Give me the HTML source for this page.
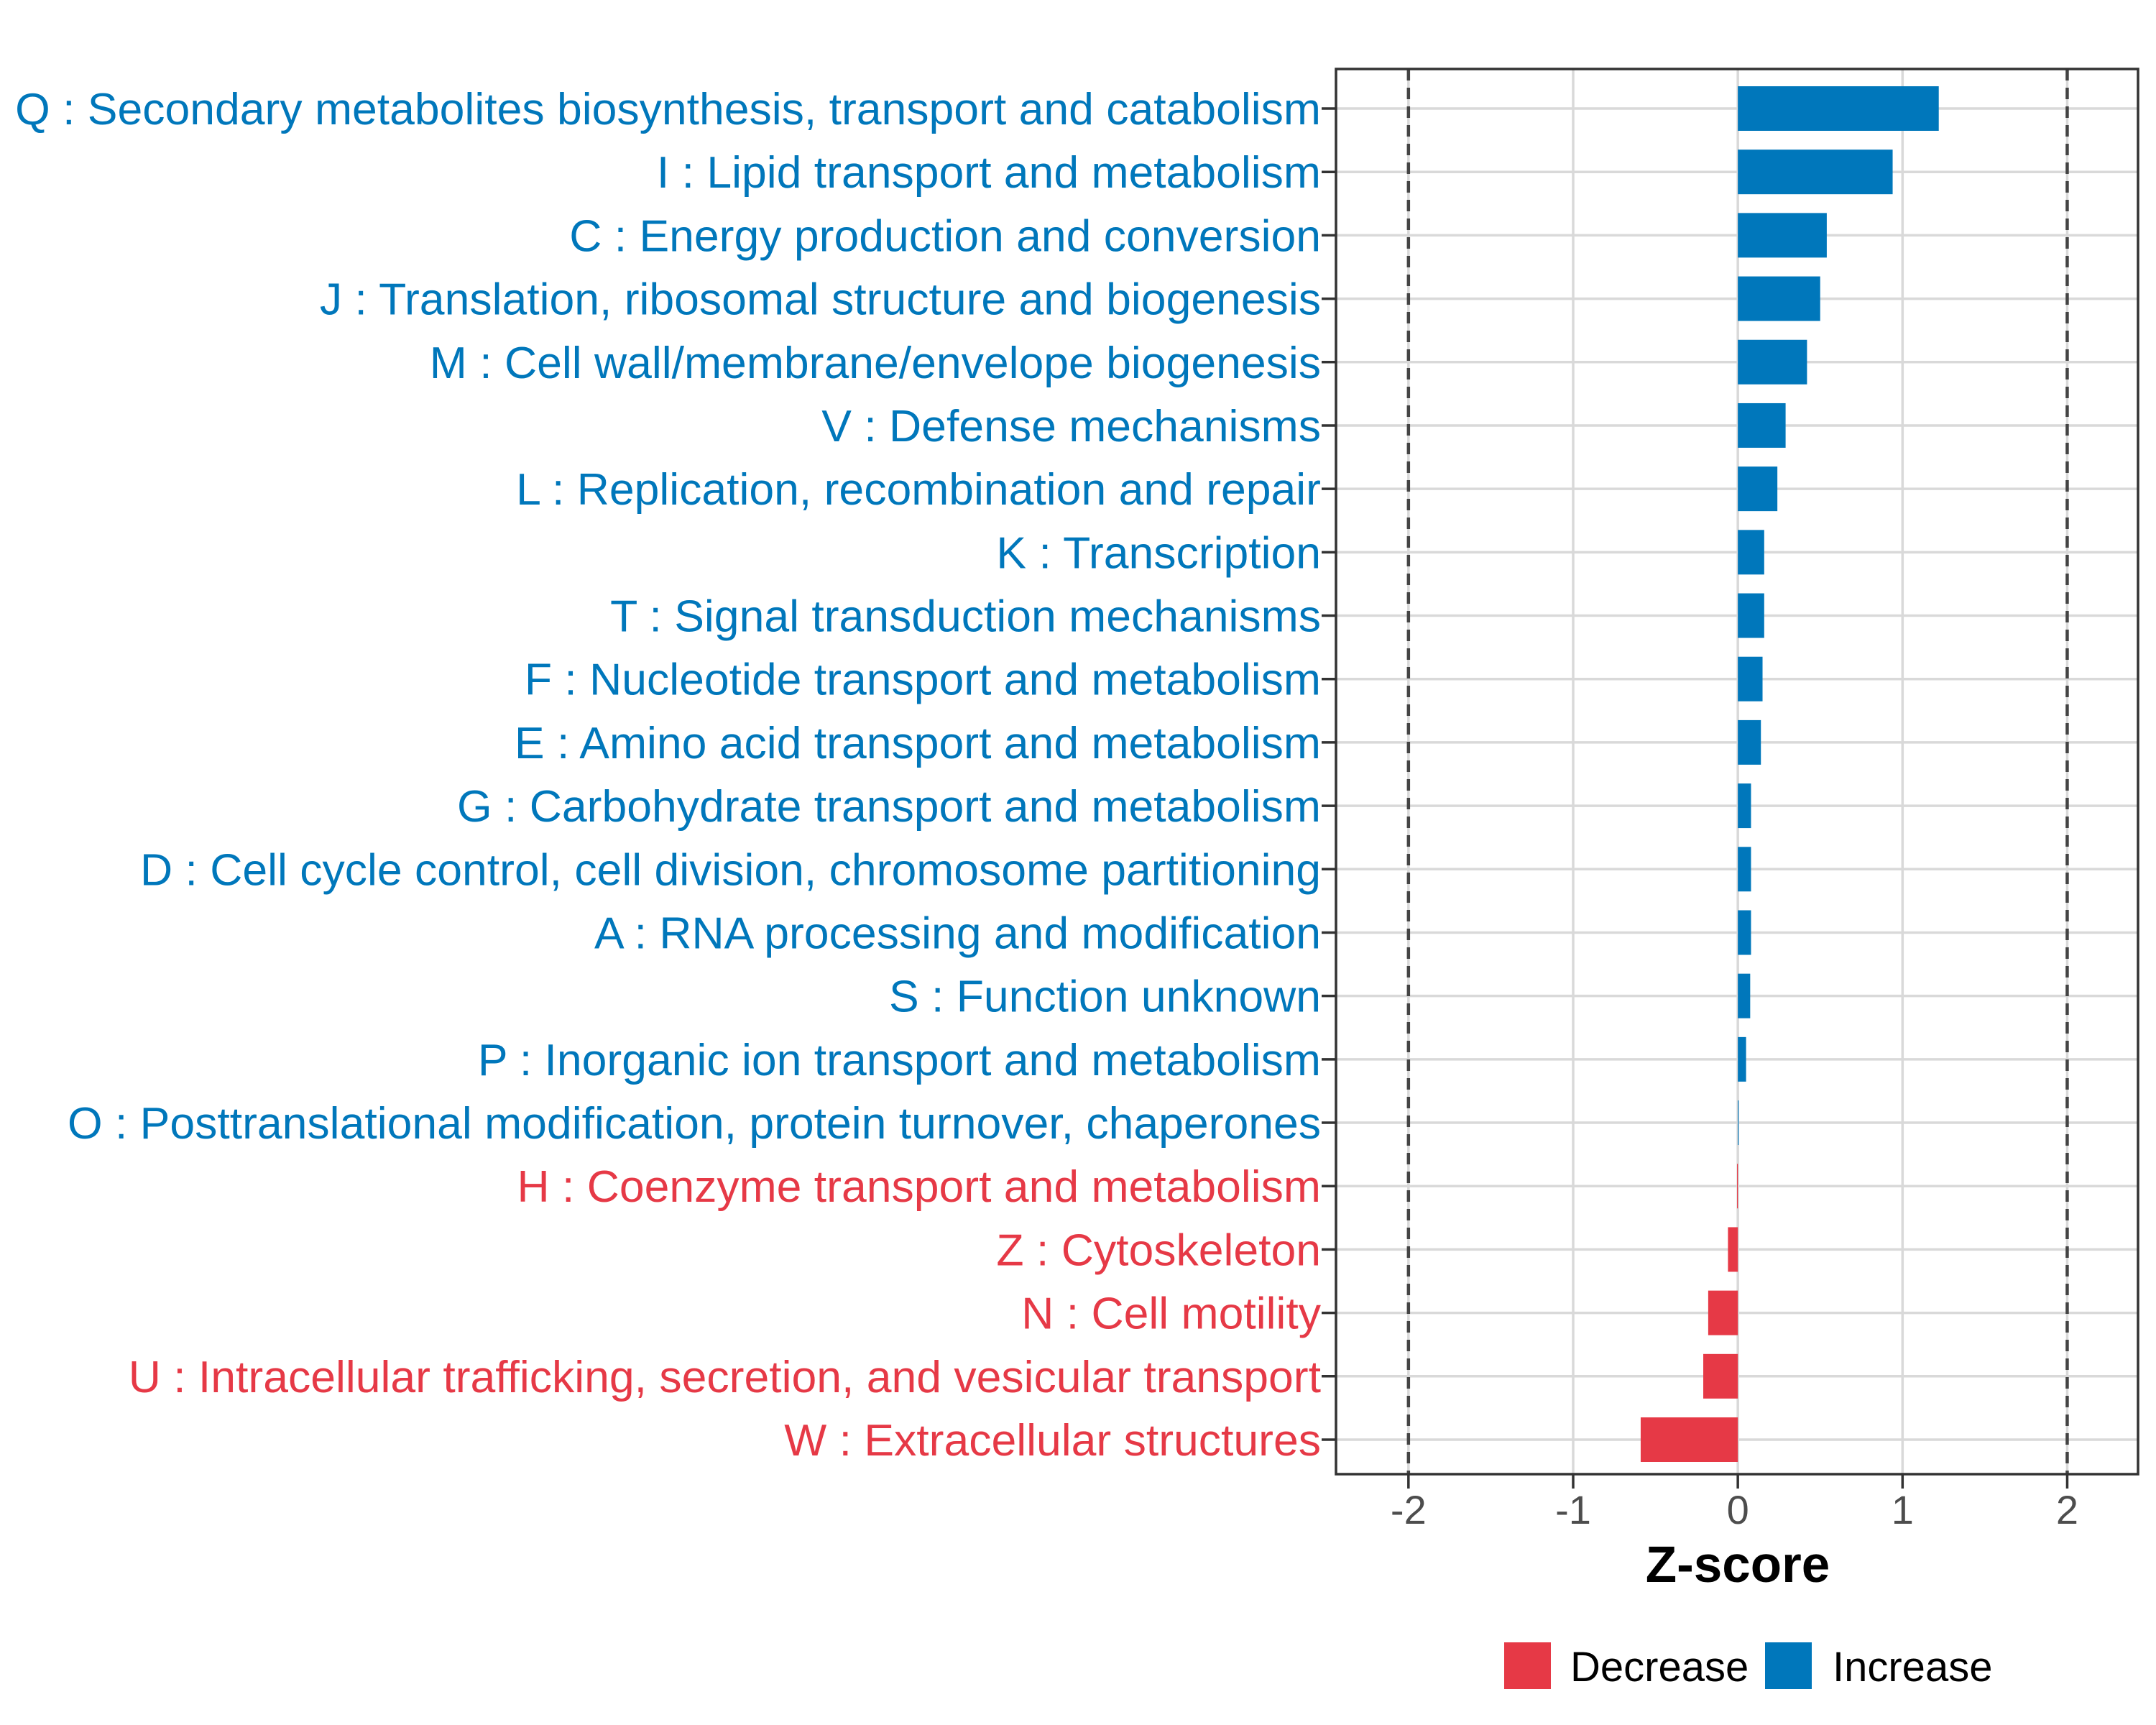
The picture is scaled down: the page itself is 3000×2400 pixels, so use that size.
<!DOCTYPE html>
<html><head><meta charset="utf-8"><style>
html,body{margin:0;padding:0;background:#fff;}
svg{display:block;font-family:"Liberation Sans",Arial,sans-serif;}
</style></head><body>
<svg id="chart" width="3000" height="2400" viewBox="0 0 3000 2400" xmlns="http://www.w3.org/2000/svg">
<g id="grid"></g>
<g id="bars"></g>
<g id="labels"></g>
<g id="xticks"></g>
<text x="2418" y="2201" text-anchor="middle" font-size="71" font-weight="bold" fill="#000">Z-score</text>
<g>
<g>
<rect x="2093" y="2285" width="65" height="65" fill="#E63946"/>
<text x="2185" y="2339" font-size="58" fill="#000">Decrease</text></g>
<g>
<rect x="2456" y="2285" width="65" height="65" fill="#0077BB"/>
<text x="2550" y="2339" font-size="58" fill="#000">Increase</text></g>
</g>
</svg>
<script>
const categories=["Q : Secondary metabolites biosynthesis, transport and catabolism","I : Lipid transport and metabolism","C : Energy production and conversion","J : Translation, ribosomal structure and biogenesis","M : Cell wall/membrane/envelope biogenesis","V : Defense mechanisms","L : Replication, recombination and repair","K : Transcription","T : Signal transduction mechanisms","F : Nucleotide transport and metabolism","E : Amino acid transport and metabolism","G : Carbohydrate transport and metabolism","D : Cell cycle control, cell division, chromosome partitioning","A : RNA processing and modification","S : Function unknown","P : Inorganic ion transport and metabolism","O : Posttranslational modification, protein turnover, chaperones","H : Coenzyme transport and metabolism","Z : Cytoskeleton","N : Cell motility","U : Intracellular trafficking, secretion, and vesicular transport","W : Extracellular structures"];
const zscores=[1.22,0.94,0.54,0.50,0.42,0.29,0.24,0.16,0.16,0.15,0.14,0.08,0.08,0.08,0.075,0.05,0.005,-0.005,-0.06,-0.18,-0.21,-0.59];
const xTicks=[-2,-1,0,1,2];
const xTickLabels=["-2","-1","0","1","2"];
const dashedRefs=[-2,2];
const NS="http://www.w3.org/2000/svg";
const L=1859,R=2975,T=96,B=2051;
const xMin=-2.44,xMax=2.43;
const x=v=>L+(v-xMin)/(xMax-xMin)*(R-L);
const y0=151,y1=2003;
const y=i=>y0+i*(y1-y0)/(categories.length-1);
const BLUE="#0077BB",RED="#E63946";
function mk(tag,attrs,parent){const e=document.createElementNS(NS,tag);for(const k in attrs)e.setAttribute(k,attrs[k]);parent.appendChild(e);return e;}
const svg=document.getElementById('chart');
const grid=document.getElementById('grid'),bars=document.getElementById('bars'),labels=document.getElementById('labels'),xt=document.getElementById('xticks');
xTicks.forEach((v,i)=>{
 const g=mk('line',{x1:x(v),x2:x(v),y1:T,y2:B,stroke:'#d9d9d9','stroke-width':3.5},grid);
 
 
 const t=mk('line',{x1:x(v),x2:x(v),y1:B,y2:B+20,stroke:'#333','stroke-width':3.5},xt);
 
 
 const tl=mk('text',{x:x(v),y:2120,'text-anchor':'middle','font-size':56,fill:'#4d4d4d'},xt);
 tl.textContent=xTickLabels[i];
 
 
});
categories.forEach((c,i)=>{
 const g=mk('line',{x1:L,x2:R,y1:y(i),y2:y(i),stroke:'#d9d9d9','stroke-width':3.5},grid);
 
 
 const v=zscores[i];const col=v>=0?BLUE:RED;
 const bx=Math.min(x(0),x(v)),bw=Math.max(Math.abs(x(v)-x(0)),1);
 const b=mk('rect',{x:bx,y:y(i)-31,width:bw,height:62,fill:col},bars);
 
 
 const tk=mk('line',{x1:L-20,x2:L,y1:y(i),y2:y(i),stroke:'#333','stroke-width':3.5},labels);
 
 
 const t=mk('text',{x:1838,y:y(i)+22,'text-anchor':'end','font-size':62.5,fill:col},labels);
 t.textContent=c;
 
 
});
dashedRefs.forEach(v=>{
 const d=mk('line',{x1:x(v),x2:x(v),y1:T,y2:B,stroke:'#444','stroke-width':4.5,'stroke-dasharray':'16,10'},svg);
 
 
});
const fr=mk('rect',{x:L,y:T,width:R-L,height:B-T,fill:'none',stroke:'#333','stroke-width':3.5},svg);


</script>
</body></html>
